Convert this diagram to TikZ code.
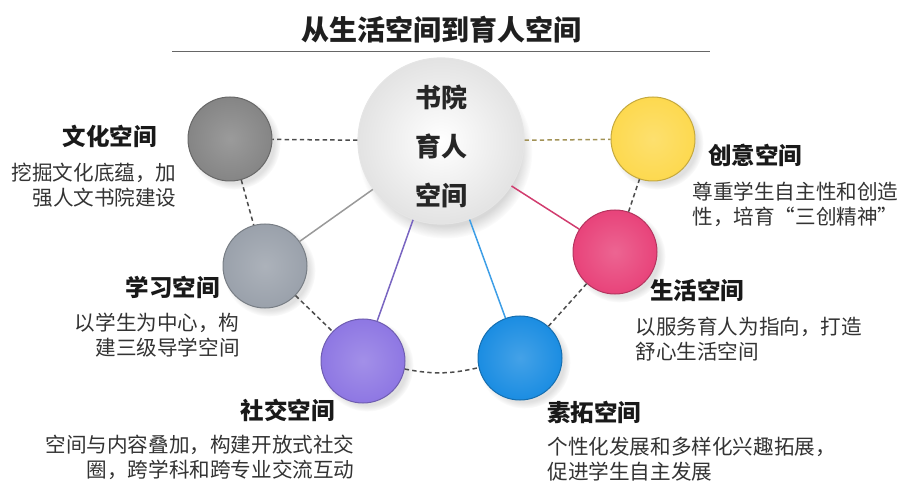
\documentclass[tikz,border=0pt]{standalone}
\usepackage{fontspec}
\setmainfont{Noto Sans CJK SC}
\usetikzlibrary{shadows}

\definecolor{culturegray}{HTML}{858585}
\definecolor{studygray}{HTML}{9AA1AB}
\definecolor{socialpurple}{HTML}{8E77E3}
\definecolor{activityblue}{HTML}{1B8DE2}
\definecolor{lifepink}{HTML}{E8437A}
\definecolor{creativeyellow}{HTML}{FDD94F}

\begin{document}
\begin{tikzpicture}[x=0.5pt, y=-0.5pt,
  spacenode/.style={circle, minimum size=42pt, inner sep=0pt, draw=#1!78!black, line width=0.5pt,
    inner color=#1!82!white, outer color=#1,
    circular drop shadow={shadow xshift=2pt, shadow yshift=-2pt, opacity=0.12, fill=black}},
  hubnode/.style={circle, minimum size=83pt, inner sep=0pt, draw=black!10, line width=0.6pt,
    inner color=white, outer color=black!11,
    circular drop shadow={shadow xshift=2pt, shadow yshift=-5pt, shadow scale=1.05, opacity=0.22, fill=black!70}},
  hubtext/.style={inner sep=0pt, align=center, font=\fontsize{13}{24.5}\selectfont\bfseries, text=black!85},
  headnode/.style={inner sep=0pt, font=\fontsize{11.75}{14}\selectfont\bfseries, text=black!90},
  textnode/.style={inner sep=0pt, font=\fontsize{10.3}{12.5}\selectfont, text=black!80},
  dashline/.style={draw=black!70, line width=0.75pt, dash pattern=on 2.2pt off 1.6pt},
  spoke/.style={draw=#1, line width=0.75pt},]
\useasboundingbox (0,0) rectangle (901,481);
% title
\node[inner sep=0pt, font=\fontsize{14}{16}\selectfont\bfseries, text=black!88] (title) at (441,30) {从生活空间到育人空间};
\coordinate (rule_left) at (172,52);
\coordinate (rule_right) at (710,52);
\draw[black!60, line width=0.5pt] (rule_left) -- (rule_right);
% circles
\node[hubnode] (hub) at (441,141) {};
\node[hubtext] (hub_label) at (441,146) {书院\\育人\\空间};
\node[spacenode=culturegray] (culture) at (230,139) {};
\node[spacenode=studygray] (study) at (265,266) {};
\node[spacenode=socialpurple] (social) at (363,361) {};
\node[spacenode=activityblue] (activity) at (520,358) {};
\node[spacenode=lifepink] (life) at (615,252) {};
\node[spacenode=creativeyellow] (creative) at (653,139) {};
% labels
\node[headnode, anchor=east] (culture_title) at (157,136) {文化空间};
\node[textnode, anchor=east, align=right] (culture_text) at (177,185) {挖掘文化底蕴，加\\强人文书院建设};
\node[headnode, anchor=east] (study_title) at (220,287) {学习空间};
\node[textnode, anchor=east, align=right] (study_text) at (240,335) {以学生为中心，构\\建三级导学空间};
\node[headnode, anchor=east] (social_title) at (335,410) {社交空间};
\node[textnode, anchor=east, align=right] (social_text) at (355,457) {空间与内容叠加，构建开放式社交\\圈，跨学科和跨专业交流互动};
\node[headnode, anchor=west] (creative_title) at (708,155) {创意空间};
\node[textnode, anchor=west, align=left] (creative_text) at (692,204) {尊重学生自主性和创造\\性，培育“三创精神”};
\node[headnode, anchor=west] (life_title) at (650,290) {生活空间};
\node[textnode, anchor=west, align=left] (life_text) at (635,339) {以服务育人为指向，打造\\舒心生活空间};
\node[headnode, anchor=west] (activity_title) at (547,412) {素拓空间};
\node[textnode, anchor=west, align=left] (activity_text) at (547,459) {个性化发展和多样化兴趣拓展，\\促进学生自主发展};
% edges
\draw[dashline] (hub) -- (culture);
\draw[dashline, draw=creativeyellow!55!black!80] (hub) -- (creative);
\draw[dashline] (culture) -- (study);
\draw[dashline] (study) -- (social);
\draw[dashline] (social) to[bend right=12] (activity);
\draw[dashline] (activity) -- (life);
\draw[dashline] (life) -- (creative);
\draw[spoke=black!40] (hub) -- (study);
\draw[spoke=socialpurple!85!black] (hub) -- (social);
\draw[spoke=activityblue!85!white] (hub) -- (activity);
\draw[spoke=lifepink!90!black] (hub) -- (life);
\end{tikzpicture}
\end{document}
